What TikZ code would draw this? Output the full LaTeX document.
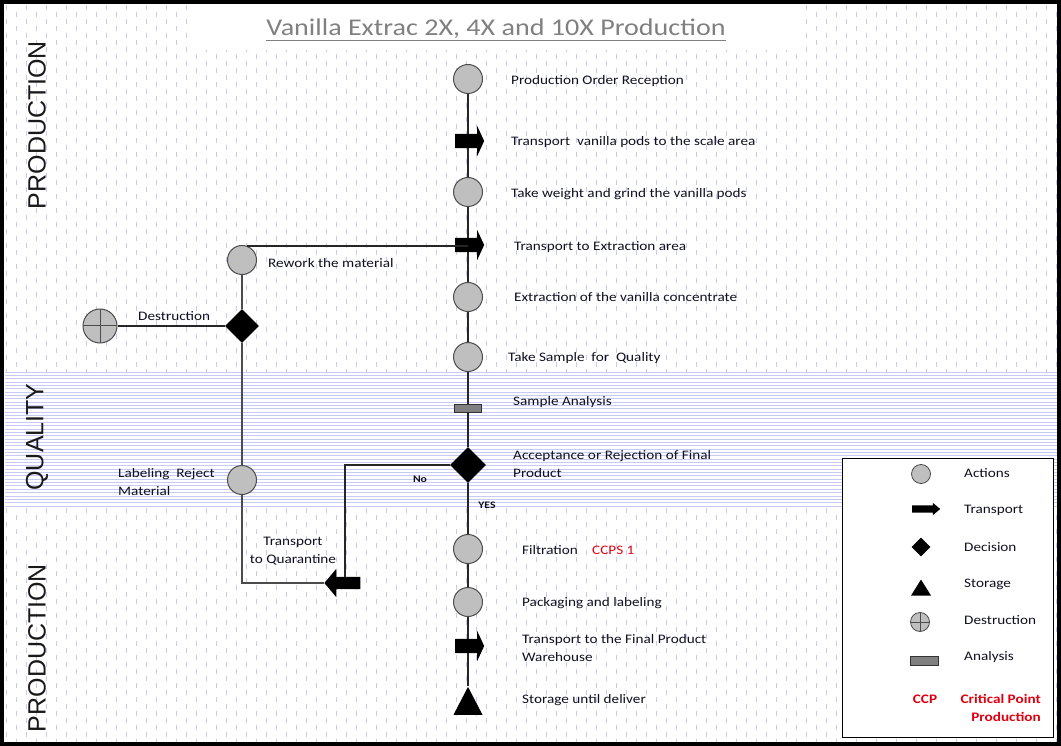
\documentclass[tikz,border=0pt]{standalone}
\usepackage{fontspec}
\newfontfamily\calfont{Carlito}[FakeStretch=1.17]
\newfontfamily\arlfont{Liberation Sans}
\usetikzlibrary{shapes.geometric,shapes.arrows}
\definecolor{patc}{HTML}{C6CAF4}
\definecolor{txtc}{HTML}{101020}
\definecolor{ccp}{HTML}{E00010}
\begin{document}
\begin{tikzpicture}[x=1pt,y=-1pt,
  act/.style={circle, draw=black!70, fill=black!25, line width=1pt, minimum size=29pt, inner sep=0pt},
  trans/.style={single arrow, fill=black, draw=none, inner xsep=0pt, inner ysep=7pt, minimum height=29pt, single arrow head extend=8pt, single arrow tip angle=130},
  dec/.style={diamond, fill=black, minimum size=36pt, inner sep=0pt, aspect=1},
  stor/.style={isosceles triangle, shape border rotate=90, fill=black, inner sep=0pt, minimum height=28pt, minimum width=29pt, isosceles triangle stretches},
  ana/.style={rectangle, draw=black!80, fill=black!50, line width=0.9pt, minimum width=27pt, minimum height=8pt, inner sep=0pt},
  des/.style={act, path picture={\draw[line width=1pt] (path picture bounding box.north) -- (path picture bounding box.south) (path picture bounding box.west) -- (path picture bounding box.east);}},
  lbl/.style={anchor=west, inner sep=0pt, text=txtc, font=\calfont\fontsize{13}{18}\selectfont, align=left},
  small/.style={inner sep=0pt, text=txtc, font=\calfont\bfseries\fontsize{10}{12}\selectfont},
  redt/.style={inner sep=0pt, text=ccp, font=\calfont\bfseries\fontsize{13}{18}\selectfont},
  side/.style={rotate=90, inner sep=0pt, text=black!90, font=\arlfont\fontsize{25}{30}\selectfont},
  pat/.style={draw=patc, line width=0.9pt, dash pattern=on 5pt off 9pt},
  hl/.style={draw=patc, line width=0.9pt},
  flow/.style={line width=1.4pt, draw=black!85},
  thin/.style={line width=1.1pt, draw=black!70}]
\useasboundingbox (0,0) rectangle (1061,746);
\fill[white] (0,0) rectangle (1061,746);
% background patterns
\foreach \i in {0,...,52} {
  \draw[pat] (6+20*\i,5) -- (6+20*\i,372);
  \draw[pat, dash phase=7pt] (16+20*\i,5) -- (16+20*\i,372);
  \draw[pat] (6+20*\i,508) -- (6+20*\i,742);
  \draw[pat, dash phase=7pt] (16+20*\i,508) -- (16+20*\i,742);
}
\foreach \k in {0,...,40} \draw[hl] (5,372+3.35*\k) -- (1058,372+3.35*\k);
\fill[white] (193,5) rectangle (798,50);
\draw[line width=4pt] (2,2.5) rectangle (1059,744);
% title
\node[inner sep=0pt, font=\calfont\fontsize{24}{28}\selectfont, text=black!50] (title) at (496,30) {\underline{Vanilla Extrac 2X, 4X and 10X Production}};
% side labels
\node[side] (s1) at (37,125) {PRODUCTION};
\node[side] (s2) at (37,437) {QUALITY};
\node[side] (s3) at (37,648) {PRODUCTION};
% main column
\node[act] (a1) at (468,79) {};
\node[trans] (t1) at (468,141) {};
\node[act] (a2) at (468,192) {};
\node[trans] (t2) at (468,245) {};
\node[act] (a3) at (468,297) {};
\node[act] (a4) at (468,357) {};
\node[ana] (an) at (468,408) {};
\node[dec] (d) at (468,465) {};
\node[act] (a5) at (468,549) {};
\node[act] (a6) at (468,602) {};
\node[trans] (t3) at (468,646) {};
\node[stor] (st) at (468,706) {};
\draw[flow] (a1) -- (t1) -- (a2) -- (t2) -- (a3) -- (a4) -- (an) -- (d) -- (a5) -- (a6) -- (t3) -- (st);
% left branch
\node[act] (rw) at (242,260) {};
\node[dec, minimum size=34pt] (d2) at (242,326) {};
\node[des, minimum size=34pt] (ds) at (100,326) {};
\node[act] (lab) at (242,480) {};
\node[trans, shape border rotate=180, inner ysep=6pt, minimum height=36pt, single arrow head extend=8pt, single arrow tip angle=100] (tq) at (345,583) {};
\draw[flow] (rw.70) -- (rw.70 -| t2);
\draw[thin] (rw) -- (d2) -- (lab);
\draw[flow] (ds) -- (d2);
\draw[thin] (lab) |- (tq.tip);
\draw[flow] (d) -| (tq);
% labels
\node[lbl] (l1) at (511,81) {Production Order Reception};
\node[lbl] (l2) at (511,142) {Transport\ \ vanilla pods to the scale area};
\node[lbl] (l3) at (511,194) {Take weight and grind the vanilla pods};
\node[lbl] (l4) at (514,247) {Transport to Extraction area};
\node[lbl] (l5) at (514,297) {Extraction of the vanilla concentrate};
\node[lbl] (l6) at (508,358) {Take Sample\ \ for\ \ Quality};
\node[lbl] (l7) at (513,402) {Sample Analysis};
\node[lbl] (l8) at (513,464) {Acceptance or Rejection of Final\\Product};
\node[small] (no) at (420,479) {No};
\node[small] (yes) at (487,505) {YES};
\node[lbl] (l9) at (522,550) {Filtration};
\node[lbl, text=ccp] (ccps) at (592,550) {CCPS 1};
\node[lbl] (l10) at (522,603) {Packaging and labeling};
\node[lbl] (l11) at (522,648) {Transport to the Final Product\\Warehouse};
\node[lbl] (l12) at (522,700) {Storage until deliver};
\node[lbl] (l13) at (268,263) {Rework the material};
\node[lbl] (l14) at (138,316) {Destruction};
\node[lbl] (l15) at (118,482) {Labeling\ \ Reject\\Material};
\node[lbl, anchor=center, align=center] (l16) at (293,551) {Transport\\to Quarantine};
% legend
\node[draw=black, line width=1.2pt, fill=white, minimum width=211pt, minimum height=279pt, inner sep=0pt, anchor=north west] (leg) at (842,458) {};
\node[act, minimum size=19pt, line width=0.8pt] (la) at (921,474) {};
\node[trans, minimum height=28pt, inner ysep=3.5pt, single arrow head extend=2.5pt, single arrow tip angle=80] (lt) at (924,509) {};
\node[dec, minimum size=19pt] (ld) at (921,547) {};
\node[stor, minimum height=16pt, minimum width=20pt] (ls) at (921,590) {};
\node[des, minimum size=19pt, line width=0.8pt] (lx) at (920,622) {};
\node[ana, minimum width=28pt, minimum height=9pt] (ln) at (924,661) {};
\node[lbl] (ta) at (964,473) {Actions};
\node[lbl] (tt) at (964,510) {Transport};
\node[lbl] (td) at (964,547) {Decision};
\node[lbl] (ts) at (964,584) {Storage};
\node[lbl] (tx) at (964,620) {Destruction};
\node[lbl] (tn) at (964,657) {Analysis};
\node[redt] (tc) at (925,699) {CCP};
\node[redt, anchor=east, align=right] (tcp) at (1041,708) {Critical Point\\Production};
\end{tikzpicture}
\end{document}
